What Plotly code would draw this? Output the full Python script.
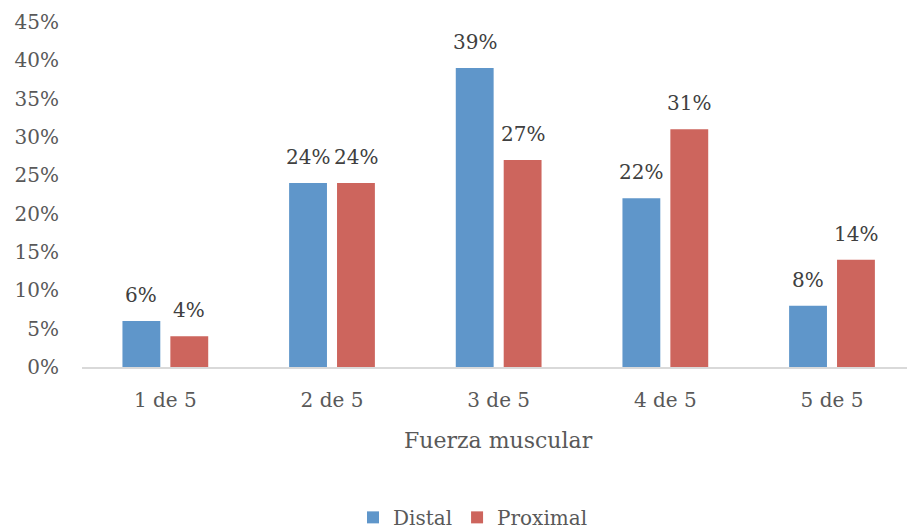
import plotly.graph_objects as go

categories = ["1 de 5", "2 de 5", "3 de 5", "4 de 5", "5 de 5"]
distal = [6, 24, 39, 22, 8]
proximal = [4, 24, 27, 31, 14]
y_ticks = [0, 5, 10, 15, 20, 25, 30, 35, 40, 45]
y_tick_labels = [f"{v}%" for v in y_ticks]

FONT = "DejaVu Serif"
BLUE = "#5F96CA"
RED = "#CD655D"
AXIS_TEXT = "#595959"
LABEL_TEXT = "#404040"

fig = go.Figure()
fig.add_bar(name="Distal", x=categories, y=distal, marker_color=BLUE,
            marker_line_width=0)
fig.add_bar(name="Proximal", x=categories, y=proximal, marker_color=RED,
            marker_line_width=0)

# value labels above each bar
for series, shift in ((distal, -24), (proximal, 24)):
    for cat, val in zip(categories, series):
        fig.add_annotation(x=cat, y=val, text=f"{val}%", showarrow=False,
                           xshift=shift, yshift=12, yanchor="bottom",
                           font=dict(family=FONT, size=20, color=LABEL_TEXT))

# x axis title centred under the middle category
fig.add_annotation(x=2, y=0, xref="x", yref="y", yshift=-59,
                   text="Fuerza muscular", showarrow=False, yanchor="top",
                   font=dict(family=FONT, size=22, color=AXIS_TEXT))

fig.update_layout(
    width=907, height=529,
    margin=dict(l=82, r=0, t=22, b=162),
    paper_bgcolor="white", plot_bgcolor="white",
    barmode="group", bargap=0.425, bargroupgap=0.21,
    font=dict(family=FONT, size=20, color=AXIS_TEXT),
    showlegend=True,
    legend=dict(orientation="h", xref="container", yref="container",
                x=0.5215, y=0.022, xanchor="center", yanchor="middle",
                font=dict(family=FONT, size=20, color=AXIS_TEXT),
                itemwidth=30, traceorder="normal"),
    xaxis=dict(range=[-0.5, 4.45], showgrid=False, zeroline=False,
               showline=True, linecolor="#D9D9D9", linewidth=2,
               ticks="", ticklabelstandoff=14,
               tickfont=dict(family=FONT, size=20, color=AXIS_TEXT)),
    yaxis=dict(range=[0, 45], tickvals=y_ticks, ticktext=y_tick_labels,
               showgrid=False, zeroline=False, showline=False,
               ticks="", ticklabelstandoff=22,
               tickfont=dict(family=FONT, size=20, color=AXIS_TEXT)),
)

fig.write_html("out.html")
